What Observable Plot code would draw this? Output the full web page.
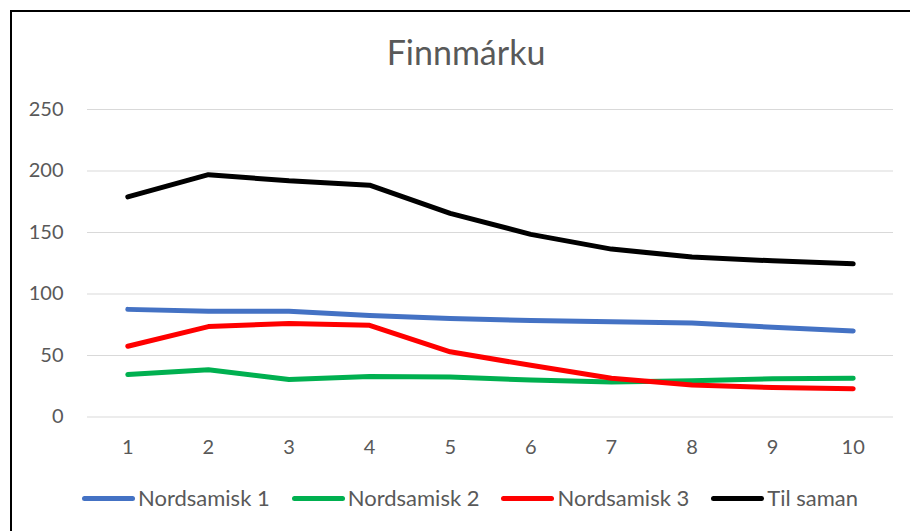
<!DOCTYPE html>
<html>
<head>
<meta charset="utf-8">
<script src="https://cdn.jsdelivr.net/npm/d3@7"></script>
<script src="https://cdn.jsdelivr.net/npm/@observablehq/plot@0.6"></script>
<style>
  html, body { margin: 0; padding: 0; background: #fff; }
  #wrap { position: relative; width: 910px; height: 531px; overflow: hidden; font-family: Lato, "Open Sans", sans-serif; }
  #frameL { position: absolute; left: 10px; top: 10px; width: 2px; height: 540px; background: #000; }
  #frameT { position: absolute; left: 10px; top: 10px; width: 920px; height: 2px; background: #000; }
  #title { position: absolute; left: 0; width: 932px; top: 32px; text-align: center; font-size: 34px; color: #595959; line-height: 40px; }
  #chart { position: absolute; left: 0; top: 0; }
  #legend { position: absolute; left: 0; width: 940px; top: 484px; display: flex; justify-content: center; gap: 22px; font-size: 22px; color: #595959; line-height: 28px; }
  .item { display: flex; align-items: center; }
  .sw { width: 53px; height: 5px; border-radius: 3px; margin-right: 3px; }
</style>
</head>
<body>
<div id="wrap">
  <div id="frameL"></div>
  <div id="frameT"></div>
  <div id="chart"></div>
  <div id="title">Finnmárku</div>
  <div id="legend"></div>
</div>
<script>
const categories = [1, 2, 3, 4, 5, 6, 7, 8, 9, 10];
const seriesNames = ["Nordsamisk 1", "Nordsamisk 2", "Nordsamisk 3", "Til saman"];
const nordsamisk1 = [87.5, 86, 86, 82.5, 80, 78.5, 77.5, 76.5, 73, 70];
const nordsamisk2 = [34.5, 38.5, 30.5, 33, 32.5, 30, 28.5, 29.5, 31, 31.5];
const nordsamisk3 = [57.5, 73.5, 76, 74.5, 53, 42, 31.5, 26, 24, 23];
const tilSaman = [179, 197, 192, 188.5, 165.5, 148.5, 136.5, 130, 127, 124.5];
const colors = ["#4472C4", "#00B050", "#FF0000", "#000000"];
const yTicks = [0, 50, 100, 150, 200, 250];

const allValues = [nordsamisk1, nordsamisk2, nordsamisk3, tilSaman];
const data = [];
allValues.forEach((vals, si) => {
  vals.forEach((v, i) => data.push({series: seriesNames[si], x: categories[i], y: v}));
});

const chart = Plot.plot({
  width: 910,
  height: 470,
  marginLeft: 87,
  marginRight: 17,
  marginTop: 109,
  marginBottom: 53.5,
  style: {fontFamily: "Lato, 'Open Sans', sans-serif", fontSize: "20px", color: "#595959", background: "transparent"},
  x: {domain: [0.5, 10.5]},
  y: {domain: [0, 250]},
  color: {domain: seriesNames, range: colors},
  marks: [
    Plot.gridY(yTicks, {stroke: "#d9d9d9", strokeOpacity: 1, strokeWidth: 1}),
    Plot.axisY(yTicks, {tickSize: 0, tickPadding: 24, label: null, fill: "#595959"}),
    Plot.axisX(categories, {tickSize: 0, tickPadding: 23, label: null, fill: "#595959"}),
    Plot.line(data, {x: "x", y: "y", z: "series", stroke: "series", strokeWidth: 5, strokeLinecap: "round", strokeLinejoin: "round"})
  ]
});
document.getElementById("chart").appendChild(chart);

const legend = document.getElementById("legend");
seriesNames.forEach((name, i) => {
  const it = document.createElement("div");
  it.className = "item";
  const sw = document.createElement("div");
  sw.className = "sw";
  sw.style.background = colors[i];
  const t = document.createElement("span");
  t.textContent = name;
  it.appendChild(sw);
  it.appendChild(t);
  legend.appendChild(it);
});
</script>
</body>
</html>
